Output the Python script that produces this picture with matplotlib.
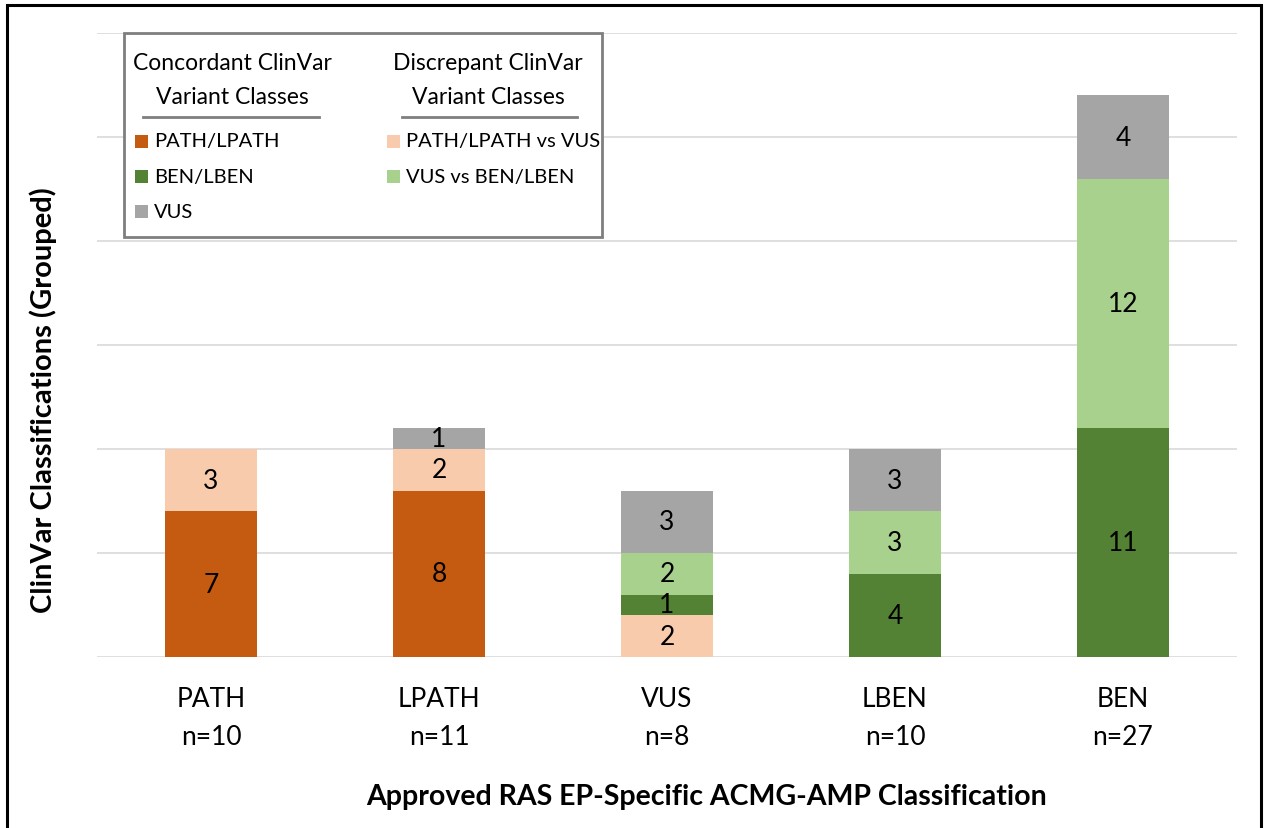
import numpy as np
import matplotlib
matplotlib.use("Agg")
import matplotlib.pyplot as plt
from matplotlib.patches import Rectangle
from matplotlib.lines import Line2D

plt.rcParams['font.family'] = ['Lato', 'DejaVu Sans']

# ---- data ----
categories = ['PATH', 'LPATH', 'VUS', 'LBEN', 'BEN']
counts_n = [10, 11, 8, 10, 27]

series_names = ['PATH/LPATH', 'PATH/LPATH vs VUS', 'BEN/LBEN',
                'VUS vs BEN/LBEN', 'VUS']
path_lpath = [7, 8, 0, 0, 0]
path_vs_vus = [3, 2, 2, 0, 0]
ben_lben = [0, 0, 1, 4, 11]
vus_vs_ben = [0, 0, 2, 3, 12]
vus = [0, 1, 3, 3, 4]
series_values = [path_lpath, path_vs_vus, ben_lben, vus_vs_ben, vus]
series_colors = ['#C55A11', '#F8CBAD', '#548235', '#A9D18E', '#A5A5A5']

W, H = 1270, 829
fig = plt.figure(figsize=(W / 100, H / 100), dpi=100)
ax_top, ax_bot = 34, 658
ax = fig.add_axes([97 / W, 1 - ax_bot / H, (1237 - 97) / W, (ax_bot - ax_top) / H])


def px(x, y):
    """pixel coords (top-left origin) -> figure fraction"""
    return x / W, 1 - y / H


def below_axis(y):
    """pixel row under the axes -> axes fraction"""
    return (ax_bot - y) / (ax_bot - ax_top)


x = np.arange(len(categories))
bottom = np.zeros(len(categories))
for vals, color in zip(series_values, series_colors):
    vals = np.array(vals, dtype=float)
    ax.bar(x, vals, width=0.4, bottom=bottom, color=color, zorder=2)
    for xi, b, v in zip(x, bottom, vals):
        if v > 0:
            ax.text(xi, b + v / 2, f'{int(v)}', ha='center', va='center',
                    fontsize=19, color='black', zorder=3)
    bottom += vals

ax.set_xlim(-0.5, len(categories) - 0.5)
ax.set_ylim(0, 30)
ax.set_yticks(np.arange(0, 31, 5))
ax.set_yticklabels([])
ax.yaxis.grid(True, color='#D9D9D9', linewidth=1.2, zorder=0)
ax.tick_params(length=0)
for s in ax.spines.values():
    s.set_visible(False)
ax.set_xticks(x)
ax.set_xticklabels([])

# category names and group sizes under each bar
xt = ax.get_xaxis_transform()
for xi, c, n in zip(x, categories, counts_n):
    ax.text(xi, below_axis(700), c, transform=xt, ha='center', va='center',
            fontsize=19)
    ax.text(xi, below_axis(738), f'n={n}', transform=xt, ha='center',
            va='center', fontsize=19)

# axis titles
fig.text(*px(707, 797), 'Approved RAS EP-Specific ACMG-AMP Classification',
         ha='center', va='center', fontsize=20.5, fontweight='bold')
fig.text(*px(43, 400), 'ClinVar Classifications (Grouped)', rotation=90,
         ha='center', va='center', fontsize=21, fontweight='bold')

# legend box with two grouped columns
lx0, ly0 = px(124, 238)
lx1, ly1 = px(602, 34)
fig.add_artist(Rectangle((lx0, ly0), lx1 - lx0, ly1 - ly0,
                         transform=fig.transFigure, facecolor='white',
                         edgecolor='#7F7F7F', linewidth=2, zorder=5))

headers = [(('Concordant ClinVar', 'Variant Classes'), 232, 143, 319),
           (('Discrepant ClinVar', 'Variant Classes'), 488, 402, 577)]
for lines, cx, ux0, ux1 in headers:
    for line, ly in zip(lines, (63, 97)):
        fig.text(*px(cx, ly), line, ha='center', va='center',
                 fontsize=16.5, zorder=6)
    fig.add_artist(Line2D([ux0 / W, ux1 / W], [1 - 118 / H, 1 - 118 / H],
                          transform=fig.transFigure, color='#7F7F7F',
                          linewidth=2, zorder=6))

left_col = [0, 2, 4]
right_col = [1, 3]
rows_y = [142, 177, 212]
for col, sx in ((left_col, 135), (right_col, 387)):
    for idx, ry in zip(col, rows_y):
        sq = 13
        fig.add_artist(Rectangle(px(sx, ry + sq / 2), sq / W, sq / H,
                                 transform=fig.transFigure,
                                 facecolor=series_colors[idx],
                                 edgecolor='none', zorder=6))
        fig.text(*px(sx + 19, ry), series_names[idx], ha='left',
                 va='center', fontsize=14.5, zorder=6)

# outer frame
fig.add_artist(Rectangle(px(7, 840), (1261 - 7) / W, (840 - 6) / H,
                         transform=fig.transFigure, facecolor='none',
                         edgecolor='black', linewidth=2.2, clip_on=False))

fig.savefig('out.png', dpi=100)
